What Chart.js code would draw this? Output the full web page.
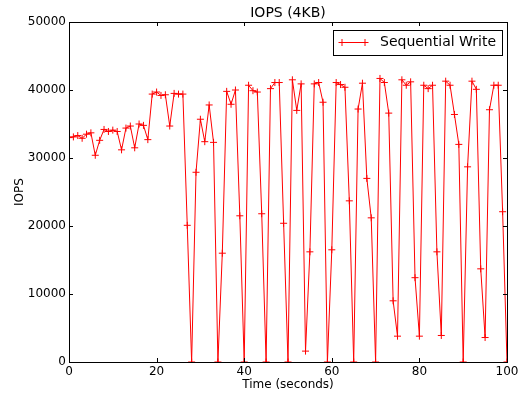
<!DOCTYPE html>
<html>
<head>
<meta charset="utf-8">
<script src="https://cdn.jsdelivr.net/npm/chart.js@4.4.0/dist/chart.umd.min.js"></script>
<style>
  html, body { margin: 0; padding: 0; background: #fff; }
</style>
</head>
<body>
<canvas id="iopsChart" width="524" height="395"></canvas>
<script>
const chartTitle = 'IOPS (4KB)';
const seriesName = 'Sequential Write';

const timeSec = [
  0, 1, 2, 3, 4, 5, 6, 7, 8, 9,
  10, 11, 12, 13, 14, 15, 16, 17, 18, 19,
  20, 21, 22, 23, 24, 25, 26, 27, 28, 29,
  30, 31, 32, 33, 34, 35, 36, 37, 38, 39,
  40, 41, 42, 43, 44, 45, 46, 47, 48, 49,
  50, 51, 52, 53, 54, 55, 56, 57, 58, 59,
  60, 61, 62, 63, 64, 65, 66, 67, 68, 69,
  70, 71, 72, 73, 74, 75, 76, 77, 78, 79,
  80, 81, 82, 83, 84, 85, 86, 87, 88, 89,
  90, 91, 92, 93, 94, 95, 96, 97, 98, 99,
  100
];

const iops = [
  33000, 33100, 33300, 32900, 33500, 33700, 30400, 32600, 34200, 33900,
  34100, 33900, 31200, 34400, 34700, 31500, 35000, 34800, 32700, 39400,
  39700, 39200, 39300, 34700, 39500, 39400, 39400, 20100, 0, 27900,
  35700, 32400, 37800, 32300, 0, 16000, 39800, 37900, 40000, 21500,
  0, 40700, 39900, 39700, 21800, 0, 40200, 41100, 41100, 20400,
  0, 41500, 37000, 40900, 1600, 16200, 40900, 41100, 38200, 0,
  16500, 41100, 40800, 40400, 23700, 0, 37200, 41000, 27000, 21200,
  0, 41700, 41100, 36600, 9000, 3800, 41500, 40700, 41200, 12400,
  3800, 40700, 40200, 40700, 16200, 3900, 41300, 40700, 36400, 32000,
  0, 28700, 41300, 40100, 13700, 3600, 37100, 40700, 40700, 22100,
  0
];

const xTicks = [0, 20, 40, 60, 80, 100];
const yTicks = [0, 10000, 20000, 30000, 40000, 50000];

const fontFamily = "'DejaVu Sans', 'Liberation Sans', sans-serif";
Chart.defaults.font.family = fontFamily;
Chart.defaults.color = '#000';

const points = timeSec.map((t, i) => ({ x: t, y: iops[i] }));

// matplotlib-like frame, inward ticks, title and legend box
const mplFrame = {
  id: 'mplFrame',
  afterDatasetsDraw(chart) {
    const { ctx, chartArea: a, scales: { x, y } } = chart;
    ctx.save();
    ctx.strokeStyle = '#000';
    ctx.lineWidth = 1;
    ctx.strokeRect(a.left + 0.5, a.top + 0.5, a.right - a.left, a.bottom - a.top);

    ctx.beginPath();
    xTicks.forEach(v => {
      const px = Math.round(x.getPixelForValue(v)) + 0.5;
      ctx.moveTo(px, a.bottom); ctx.lineTo(px, a.bottom - 4);
      ctx.moveTo(px, a.top); ctx.lineTo(px, a.top + 4);
    });
    yTicks.forEach(v => {
      const py = Math.round(y.getPixelForValue(v)) + 0.5;
      ctx.moveTo(a.left, py); ctx.lineTo(a.left + 4, py);
      ctx.moveTo(a.right, py); ctx.lineTo(a.right - 4, py);
    });
    ctx.stroke();

    // title
    ctx.fillStyle = '#000';
    ctx.font = '14px ' + fontFamily;
    ctx.textAlign = 'center';
    ctx.textBaseline = 'middle';
    ctx.fillText(chartTitle, (a.left + a.right) / 2, 13);

    // legend
    const bx = a.right - 174, by = a.top + 8, bw = 169, bh = 25;
    ctx.fillStyle = '#fff';
    ctx.fillRect(bx, by, bw, bh);
    ctx.strokeStyle = '#000';
    ctx.strokeRect(bx + 0.5, by + 0.5, bw, bh);
    const ly = by + 12.5;
    ctx.strokeStyle = 'red';
    ctx.beginPath();
    ctx.moveTo(bx + 9, ly); ctx.lineTo(bx + 32, ly);
    [bx + 9, bx + 32].forEach(mx => {
      ctx.moveTo(mx - 3.5, ly); ctx.lineTo(mx + 3.5, ly);
      ctx.moveTo(mx, ly - 3.5); ctx.lineTo(mx, ly + 3.5);
    });
    ctx.stroke();
    ctx.fillStyle = '#000';
    ctx.textAlign = 'left';
    ctx.fillText(seriesName, bx + 47, ly);
    ctx.restore();
  }
};

new Chart(document.getElementById('iopsChart').getContext('2d'), {
  type: 'line',
  data: {
    datasets: [{
      label: seriesName,
      data: points,
      borderColor: 'red',
      backgroundColor: 'red',
      borderWidth: 1,
      pointStyle: 'cross',
      pointRadius: 3.5,
      pointBorderWidth: 1,
      pointBorderColor: 'red',
      tension: 0
    }]
  },
  options: {
    responsive: false,
    animation: false,
    layout: { padding: { top: 22, right: 17, left: 0, bottom: 0 } },
    plugins: {
      legend: { display: false },
      title: { display: false },
      tooltip: { enabled: false }
    },
    scales: {
      x: {
        type: 'linear',
        min: 0,
        max: 100,
        afterFit: s => { s.height = 33; },
        afterBuildTicks: s => { s.ticks = xTicks.map(v => ({ value: v })); },
        grid: { display: false, drawTicks: false },
        border: { display: false },
        ticks: { font: { size: 12 }, padding: 3, maxRotation: 0, callback: v => String(v) },
        title: { display: true, text: 'Time (seconds)', font: { size: 12 }, padding: { top: 0, bottom: 3 } }
      },
      y: {
        min: 0,
        max: 50000,
        afterFit: s => { s.width = 69; },
        afterBuildTicks: s => { s.ticks = yTicks.map(v => ({ value: v })); },
        grid: { display: false, drawTicks: false },
        border: { display: false },
        ticks: { font: { size: 12 }, padding: 3, callback: v => String(v) },
        title: { display: true, text: 'IOPS', font: { size: 12 }, padding: { top: 13, bottom: 0 } }
      }
    }
  },
  plugins: [mplFrame]
});
</script>
</body>
</html>
